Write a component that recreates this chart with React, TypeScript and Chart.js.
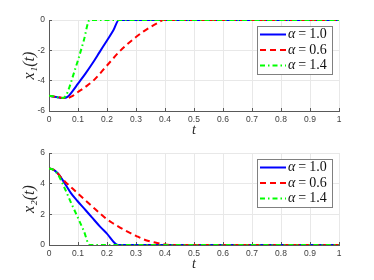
import React, { useEffect, useRef } from "react";
import { Chart, registerables } from "chart.js";

Chart.register(...registerables);

// ---- data ----
const seriesLabels = ["α = 1.0", "α = 0.6", "α = 1.4"];
const xTickLabels = ["0", "0.1", "0.2", "0.3", "0.4", "0.5", "0.6", "0.7", "0.8", "0.9", "1"];

// x1(t)
const tB1 = [0, 0.025, 0.05, 0.065, 0.08, 0.1, 0.125, 0.15, 0.175, 0.2, 0.222, 0.241, 1];
const x1B = [-5, -5.08, -5.15, -5.05, -4.72, -4.2, -3.55, -2.85, -2.1, -1.35, -0.68, 0, 0];
const tR1 = [0, 0.03, 0.06, 0.08, 0.1, 0.125, 0.153, 0.2, 0.247, 0.3, 0.325, 0.35, 0.375, 0.395, 1];
const x1R = [-5, -5.08, -5.15, -5.02, -4.75, -4.42, -4.0, -3.0, -2.0, -1.12, -0.77, -0.47, -0.2, 0, 0];
const tG1 = [0, 0.02, 0.045, 0.058, 0.07, 0.085, 0.1, 0.12, 0.14, 1];
const x1G = [-5, -5.05, -5.15, -5.0, -4.45, -3.55, -2.65, -1.35, 0, 0];

// x2(t)
const tB2 = [0, 0.015, 0.03, 0.045, 0.055, 0.075, 0.098, 0.125, 0.148, 0.176, 0.199, 0.238, 1];
const x2B = [5, 4.92, 4.68, 4.3, 4.0, 3.4, 2.87, 2.3, 1.8, 1.2, 0.76, 0, 0];
const tR2 = [0, 0.015, 0.03, 0.045, 0.063, 0.08, 0.1, 0.125, 0.15, 0.176, 0.199, 0.222, 0.245, 0.279, 0.3, 0.32, 0.34, 0.366, 0.4, 0.43, 1];
const x2R = [5, 4.92, 4.68, 4.32, 4.0, 3.7, 3.35, 2.92, 2.5, 2.06, 1.69, 1.4, 1.14, 0.79, 0.6, 0.42, 0.28, 0.16, 0.03, 0, 0];
const tG2 = [0, 0.015, 0.03, 0.047, 0.06, 0.075, 0.098, 0.12, 0.14, 1];
const x2G = [5, 4.9, 4.62, 4.0, 3.45, 2.8, 1.85, 0.92, 0, 0];

const zip = (t: number[], v: number[]) => t.map((x, i) => ({ x, y: v[i] }));

const BLUE = "#0000ff";
const RED = "#ff0000";
const GREEN = "#00ff00";

function makeDatasets(b: any[], r: any[], g: any[]) {
  const common = {
    pointRadius: 0,
    borderWidth: 2,
    fill: false,
    cubicInterpolationMode: "monotone" as const,
  };
  return [
    { ...common, label: seriesLabels[0], data: b, borderColor: BLUE, borderDash: [], order: 2 },
    { ...common, label: seriesLabels[1], data: r, borderColor: RED, borderDash: [6, 4], order: 1 },
    { ...common, label: seriesLabels[2], data: g, borderColor: GREEN, borderDash: [5, 3, 1.5, 3], order: 0 },
  ];
}

const legendBox = {
  id: "legendBox",
  afterDraw(chart: any) {
    const { ctx, chartArea } = chart;
    const left = chartArea.right - 82;
    const top = chartArea.top + 6;
    const w = 75;
    const h = 48;
    ctx.save();
    ctx.fillStyle = "#ffffff";
    ctx.fillRect(left, top, w, h);
    ctx.strokeStyle = "#808080";
    ctx.lineWidth = 1;
    ctx.strokeRect(left + 0.5, top + 0.5, w, h);
    chart.data.datasets.forEach((ds: any, i: number) => {
      const y = top + 8.5 + i * 15.5;
      ctx.beginPath();
      ctx.strokeStyle = ds.borderColor;
      ctx.lineWidth = 2;
      ctx.setLineDash(ds.borderDash || []);
      ctx.moveTo(left + 3, y);
      ctx.lineTo(left + 29, y);
      ctx.stroke();
      ctx.setLineDash([]);
      ctx.fillStyle = "#111";
      ctx.textBaseline = "middle";
      ctx.textAlign = "left";
      const lab: string = ds.label;
      const first = lab.charAt(0);
      const rest = lab.slice(1);
      ctx.font = "italic 14px 'Liberation Serif'";
      ctx.fillText(first, left + 31, y);
      const aw = ctx.measureText(first).width;
      ctx.font = "14px 'Liberation Serif'";
      const parts = rest.trim().split(" ");
      let x = left + 31 + aw + 3;
      ctx.fillText(parts[0], x, y);
      x += ctx.measureText(parts[0]).width + 3;
      ctx.fillText(parts.slice(1).join(" "), x, y);
    });
    ctx.restore();
  },
};

function makeConfig(datasets: any[], yMin: number, yMax: number, yTitle: string, padTop: number, padBottom: number) {
  const axisColor = "#595959";
  const tickFont = { size: 8.5, family: "'Liberation Sans', Arial, sans-serif" };
  return {
    type: "line" as const,
    data: { datasets },
    options: {
      animation: false as const,
      responsive: false,
      maintainAspectRatio: false,
      layout: { padding: { left: 0, right: 35, top: padTop, bottom: padBottom } },
      plugins: { legend: { display: false }, tooltip: { enabled: false } },
      scales: {
        x: {
          type: "linear" as const,
          min: 0,
          max: 1,
          afterFit: (s: any) => {
            s.height = 28;
          },
          ticks: {
            stepSize: 0.1,
            autoSkip: false,
            maxRotation: 0,
            padding: 7,
            color: "#404040",
            font: tickFont,
            callback: (_v: any, i: number) => xTickLabels[i],
          },
          grid: { color: "#e8e8e8", lineWidth: 1, tickLength: -3, tickColor: axisColor, tickWidth: 1 },
          border: { display: true, color: axisColor, width: 1 },
          title: {
            display: true,
            text: "t",
            color: "#262626",
            font: { size: 14, style: "italic" as const, family: "'Liberation Serif', serif" },
            padding: { top: 0, bottom: 0 },
          },
        },
        y: {
          type: "linear" as const,
          min: yMin,
          max: yMax,
          afterFit: (s: any) => {
            s.width = 49;
          },
          ticks: {
            stepSize: 2,
            padding: 7,
            color: "#404040",
            font: tickFont,
          },
          grid: { color: "#e8e8e8", lineWidth: 1, tickLength: -3, tickColor: axisColor, tickWidth: 1 },
          border: { display: true, color: axisColor, width: 1 },
          title: {
            display: true,
            text: yTitle,
            color: "#262626",
            font: { size: 16, style: "italic" as const, family: "'Liberation Serif', serif" },
            padding: { top: 20, bottom: 0 },
          },
        },
      },
    },
    plugins: [legendBox],
  };
}

export default function App() {
  const topRef = useRef<HTMLCanvasElement>(null);
  const botRef = useRef<HTMLCanvasElement>(null);

  useEffect(() => {
    const c1 = new Chart(
      topRef.current!,
      makeConfig(makeDatasets(zip(tB1, x1B), zip(tR1, x1R), zip(tG1, x1G)), -6, 0, "x₁(t)", 20, 1) as any
    );
    const c2 = new Chart(
      botRef.current!,
      makeConfig(makeDatasets(zip(tB2, x2B), zip(tR2, x2R), zip(tG2, x2G)), 0, 6, "x₂(t)", 13, 7) as any
    );
    return () => {
      c1.destroy();
      c2.destroy();
    };
  }, []);

  return (
    <div style={{ position: "absolute", left: 0, top: 0, width: 374, height: 280, background: "#fff" }}>
      <canvas ref={topRef} width={374} height={140} style={{ display: "block", width: 374, height: 140 }} />
      <canvas ref={botRef} width={374} height={140} style={{ display: "block", width: 374, height: 140 }} />
    </div>
  );
}
